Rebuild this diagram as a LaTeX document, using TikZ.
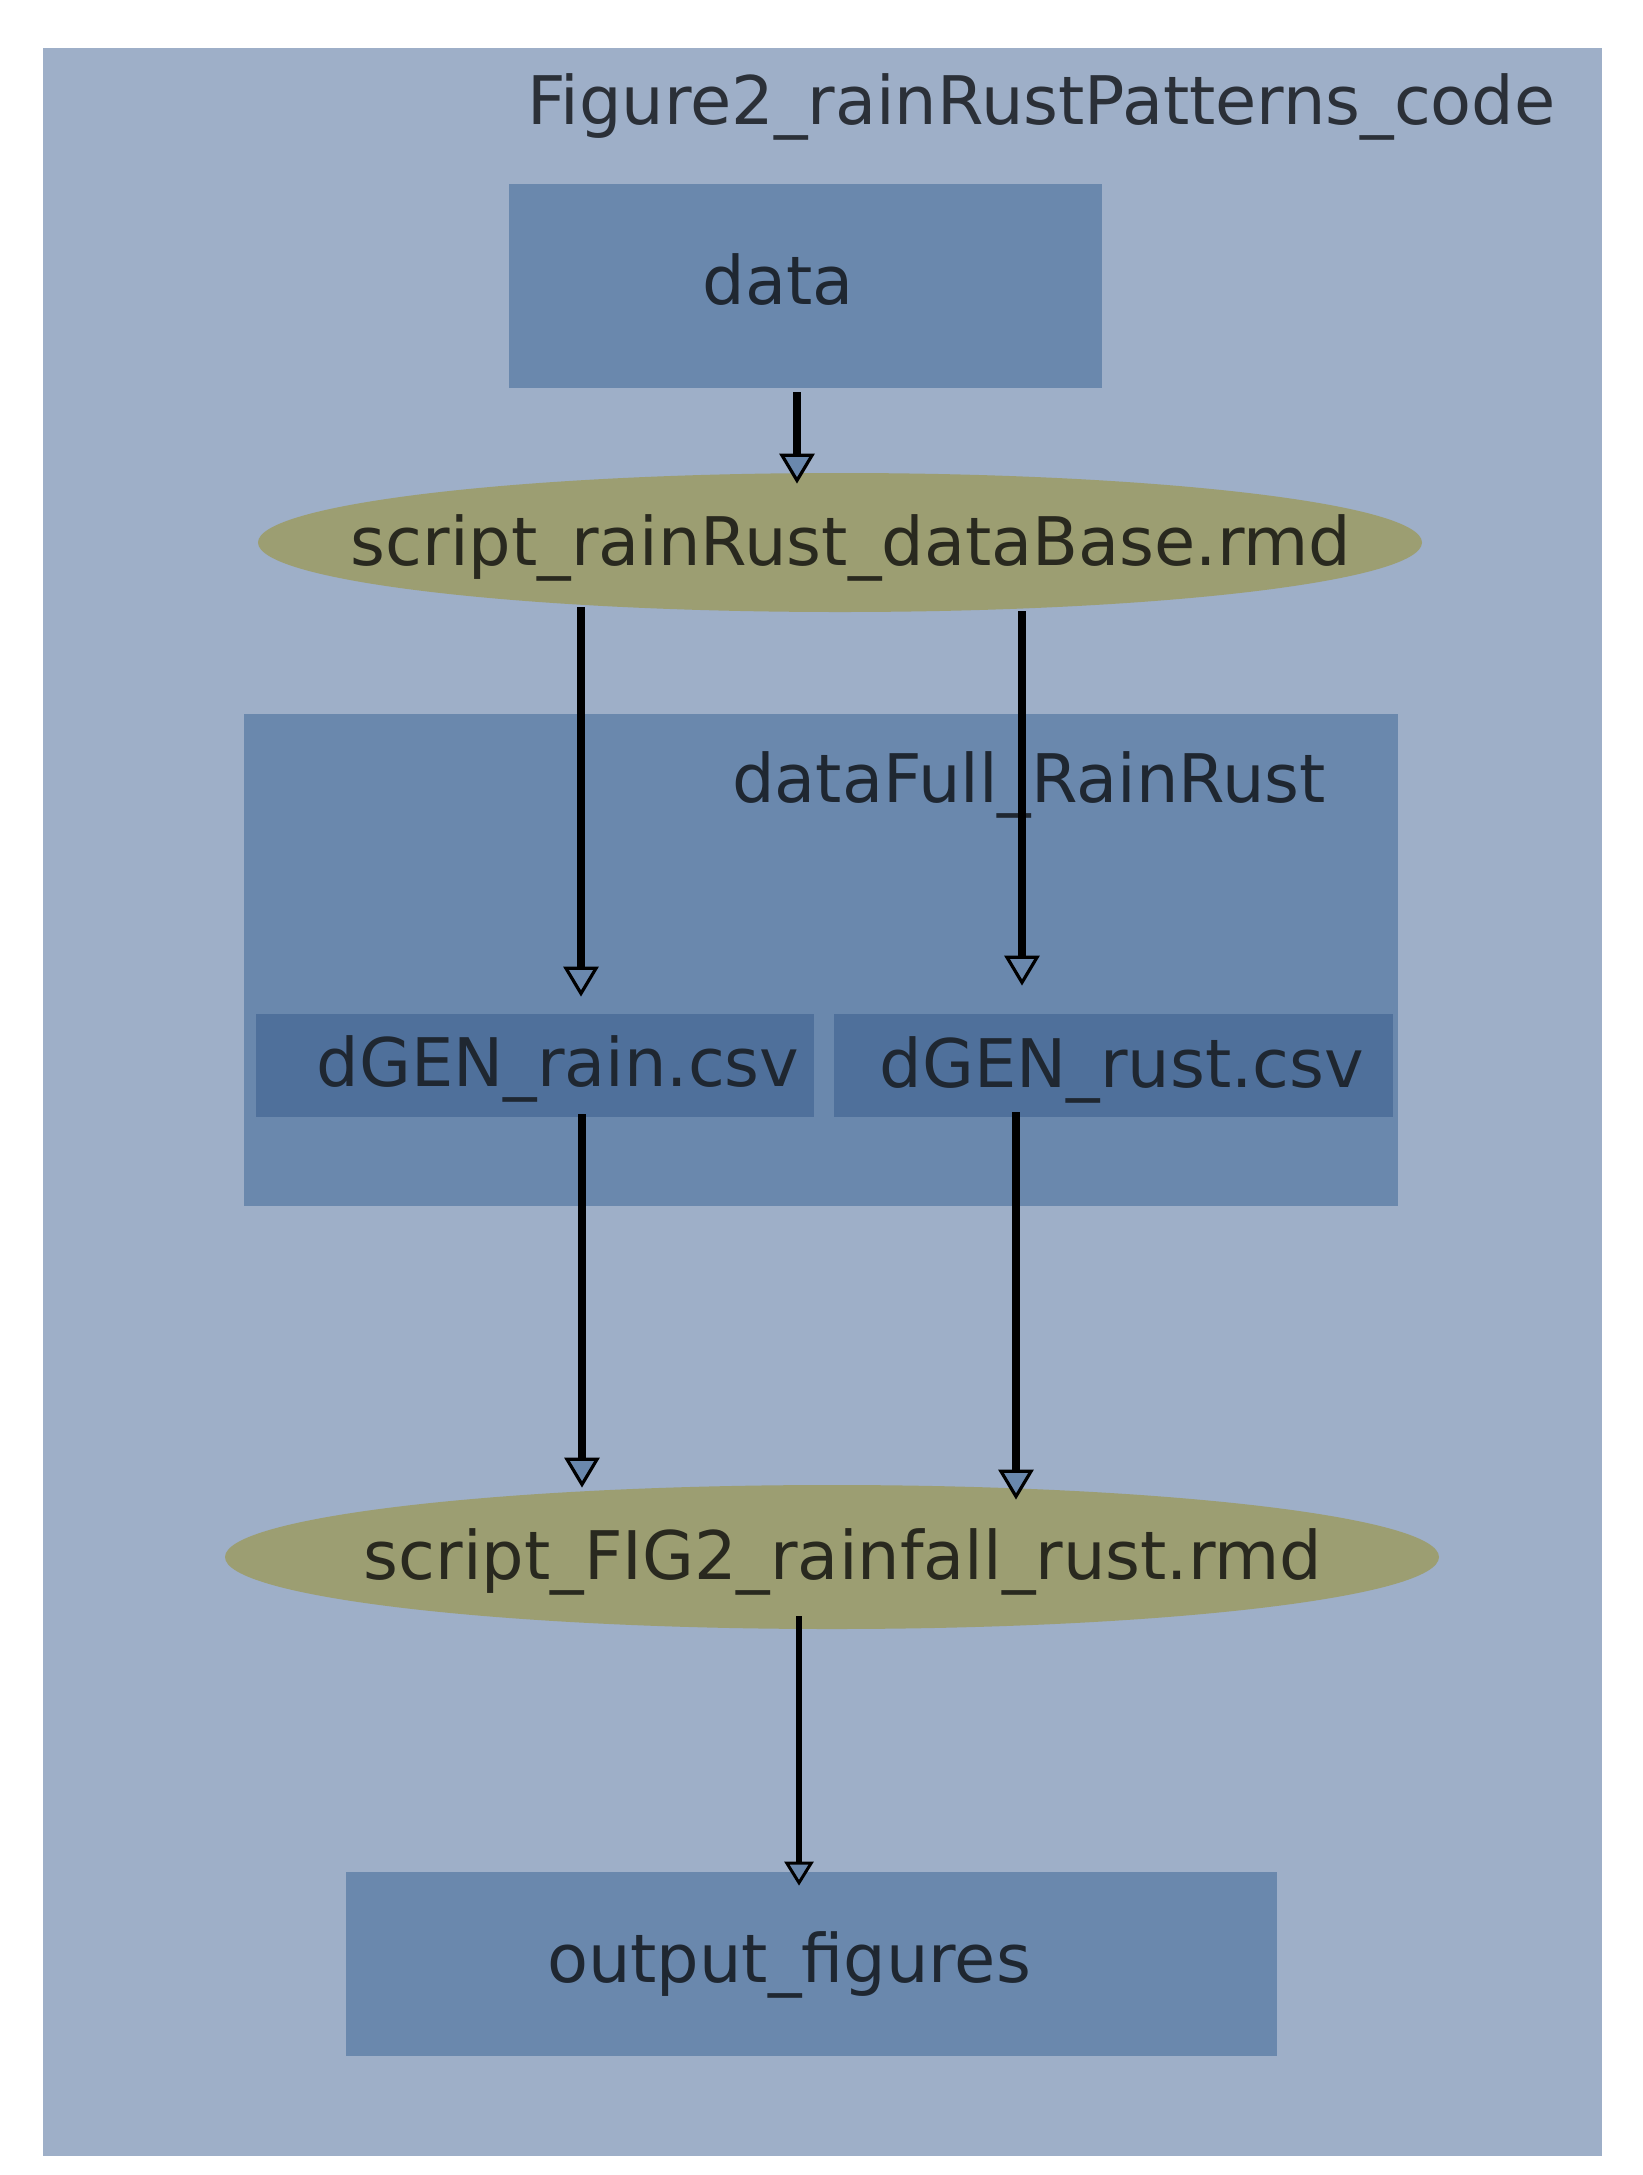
\documentclass[tikz,border=0pt]{standalone}
\usepackage{fontspec}
\setmainfont{DejaVu Sans}
\usetikzlibrary{arrows.meta,shapes.geometric,fit}
\definecolor{outerbg}{HTML}{9EAFC8}
\definecolor{boxblue}{HTML}{6A88AD}
\definecolor{darkbox}{HTML}{4F709B}
\definecolor{ellfill}{HTML}{9C9E72}
\definecolor{clustertxt}{HTML}{2B3038}
\definecolor{boxtxt}{HTML}{1F2731}
\definecolor{elltxt}{HTML}{29291F}
\definecolor{headfill}{HTML}{6A88AD}
\begin{document}
\begin{tikzpicture}[x=0.5pt,y=-0.5pt,
  lbl/.style={inner sep=0pt, anchor=base, font=\fontsize{33.5pt}{40pt}\selectfont},
  area/.style={inner sep=0pt, fill=#1},
  proc/.style={ellipse, inner sep=0pt, fill=ellfill},
  conn/.style={line width=3.65pt, draw=black, -{Triangle[length=15pt,width=17.5pt,fill=headfill,line width=1.6pt]}},
  connthin/.style={line width=3pt, draw=black, -{Triangle[length=12pt,width=14.5pt,fill=headfill,line width=1.5pt]}}
]
\useasboundingbox (0,0) rectangle (1643,2175);
\fill[white] (0,0) rectangle (1643,2175);

% outer cluster
\node[area=outerbg, fit={(43,48)(1602,2156)}] (outer) {};
\node[lbl, anchor=base east, text=clustertxt] (outerL) at (1556,124) {Figure2\_rainRustPatterns\_code};

% data box
\node[area=boxblue, fit={(509,184)(1102,388)}] (data) {};
\node[lbl, text=boxtxt] (dataL) at (778,304) {data};

% first script
\node[proc, minimum width=582pt, minimum height=69.5pt] (e1) at (840,542.5) {};
\node[lbl, text=elltxt] (e1L) at (851,565) {script\_rainRust\_dataBase.rmd};

% inner cluster
\node[area=boxblue, fit={(244,714)(1398,1206)}] (inner) {};
\node[lbl, anchor=base east, text=boxtxt] (innerL) at (1326,802) {dataFull\_RainRust};

\node[area=darkbox, fit={(256,1014)(814,1117)}] (rain) {};
\node[lbl, text=boxtxt] (rainL) at (558,1086) {dGEN\_rain.csv};
\node[area=darkbox, fit={(834,1014)(1393,1117)}] (rust) {};
\node[lbl, text=boxtxt] (rustL) at (1122,1087) {dGEN\_rust.csv};

% second script
\node[proc, minimum width=607pt, minimum height=72pt] (e2) at (832,1557) {};
\node[lbl, text=elltxt] (e2L) at (843,1579) {script\_FIG2\_rainfall\_rust.rmd};

% output box
\node[area=boxblue, fit={(346,1872)(1277,2056)}] (out) {};
\node[lbl, text=boxtxt] (outL) at (789,1982) {output\_figures};

% connectors
\draw[conn, shorten <=2pt, shorten >=-5.5pt] (data.south -| 797,0) -- (e1.north -| 797,0);
\draw[conn, shorten <=-2.5pt, shorten >=8.5pt] (e1.south -| 581,0) -- (rain.north -| 581,0);
\draw[conn, shorten <=-0.6pt, shorten >=14pt] (e1.south -| 1022,0) -- (rust.north -| 1022,0);
\draw[conn, shorten <=-1.5pt, shorten >=-1.5pt] (rain.south -| 582,0) -- (e2.north -| 582,0);
\draw[conn, shorten <=-2.5pt, shorten >=-7.5pt] (rust.south -| 1016,0) -- (e2.north -| 1016,0);
\draw[connthin, shorten <=-6.5pt, shorten >=-7pt] (e2.south -| 799,0) -- (out.north -| 799,0);
\end{tikzpicture}
\end{document}
